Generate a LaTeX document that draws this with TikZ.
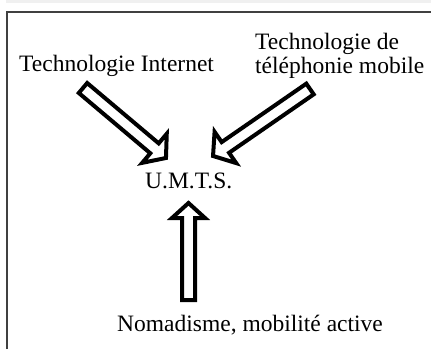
\documentclass[tikz,border=0pt]{standalone}
\usepackage{fontspec}
\setmainfont{Liberation Serif}
\usetikzlibrary{calc,positioning}

% fat hollow arrow: tail, tip, half width of the head
\newcommand{\fatarrow}[3]{%
  \draw[fat] let \p1=($(#2)-(#1)$), \n1={atan2(\y1,\x1)}, \n2={veclen(\x1,\y1)} in
    [shift={(#1)}, rotate=\n1]
    (0pt,-6.5pt) -- ({\n2-15pt},-6.5pt) -- ({\n2-15pt},-#3) -- ({\n2+0pt},0pt)
    -- ({\n2-15pt},#3) -- ({\n2-15pt},6.5pt) -- (0pt,6.5pt) -- cycle;}

\begin{document}
\begin{tikzpicture}[x=1pt, y=-1pt,
    lbl/.style={font=\fontsize{23.5}{23.5}\selectfont, inner sep=0pt},
    fat/.style={draw, line width=4pt, line join=miter, fill=white}]
    \useasboundingbox (0,0) rectangle (431,349);
    \fill[white] (0,0) rectangle (431,349);
    % frame
    \fill[black!6] (6,0) rectangle (431,3);
    \draw[line width=2pt, black!75] (7,349) |- (431,12);

    \node[lbl, anchor=base west] (inet) at (19,71) {Technologie Internet};
    \node[lbl, anchor=north west, align=left] (mobile) at (255,33) {Technologie de\\téléphonie mobile};
    \node[lbl, anchor=base west] (umts) at (145,188) {U.M.T.S.};
    \node[lbl, anchor=base west] (nomad) at (117,331) {Nomadisme, mobilité active};

    \coordinate (inettail) at (83,88);
    \coordinate (inettip) at (166,158);
    \coordinate (mobtail) at (310,89);
    \coordinate (mobtip) at (213,156);
    \coordinate (nomtail) at (188.5,300);
    \coordinate (nomtip) at (188.5,203);

    \fatarrow{inettail}{inettip}{19pt}
    \fatarrow{mobtail}{mobtip}{19pt}
    \fatarrow{nomtail}{nomtip}{16.5pt}
\end{tikzpicture}
\end{document}
